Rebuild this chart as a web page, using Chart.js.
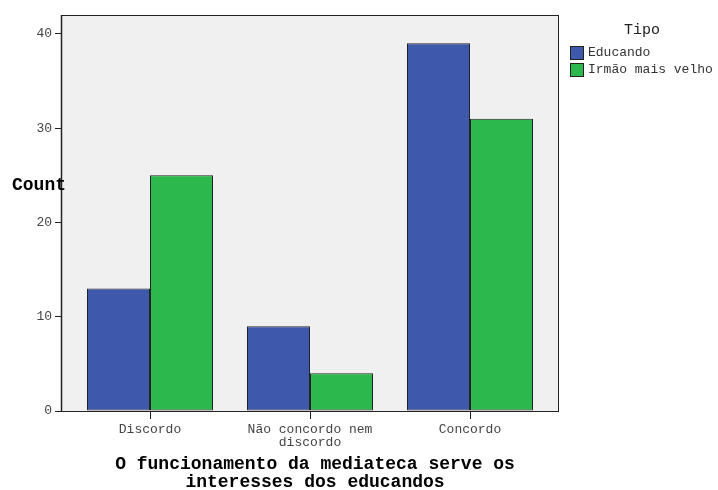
<!DOCTYPE html>
<html><head><meta charset="utf-8">
<script src="https://cdn.jsdelivr.net/npm/chart.js@4/dist/chart.umd.min.js"></script>
<style>html,body{margin:0;padding:0;background:#fff;}#wrap{width:718px;height:490px;}</style>
</head><body><div id="wrap"><canvas id="c" width="718" height="490"></canvas></div>
<script>
const categories = ['Discordo', 'Não concordo nem discordo', 'Concordo'];
const tickLabels = [['Discordo'], ['Não concordo nem', 'discordo'], ['Concordo']];
const seriesNames = ['Educando', 'Irmão mais velho'];
const educando = [13, 9, 39];
const irmao = [25, 4, 31];
const yTicks = [0, 10, 20, 30, 40];
const legendTitle = 'Tipo';
const yTitle = 'Count';
const xTitle = ['O funcionamento da mediateca serve os', 'interesses dos educandos'];

const MONO = '"Liberation Mono", "Courier New", monospace';
const colors = ['#3e58ac', '#2db84d'];

const decor = {
  id: 'decor',
  beforeDraw(chart) {
    const {ctx, chartArea: a} = chart;
    ctx.save();
    ctx.fillStyle = '#f0f0f0';
    ctx.fillRect(a.left, a.top, a.right - a.left, a.bottom - a.top);
    ctx.restore();
  },
  afterDraw(chart) {
    const {ctx, chartArea: a} = chart;
    ctx.save();
    ctx.strokeStyle = '#222';
    ctx.lineWidth = 1;
    ctx.strokeRect(a.left + 0.5, a.top + 0.5, a.right - a.left, a.bottom - a.top);
    ctx.lineWidth = 1.5;
    ctx.beginPath(); ctx.moveTo(a.left + 0.5, a.top); ctx.lineTo(a.left + 0.5, a.bottom + 1); ctx.stroke();
    // y title
    ctx.fillStyle = '#000';
    ctx.font = 'bold 18px ' + MONO;
    ctx.textAlign = 'left';
    ctx.textBaseline = 'middle';
    ctx.fillText(yTitle, 12, 185);
    // x title
    ctx.textAlign = 'center';
    xTitle.forEach((t, i) => ctx.fillText(t, 315, 464 + i * 18));
    // legend
    ctx.font = '15px ' + MONO;
    ctx.fillStyle = '#222';
    ctx.fillText(legendTitle, 642, 30);
    ctx.font = '13px ' + MONO;
    ctx.textAlign = 'left';
    chart.data.datasets.forEach((ds, i) => {
      const y = 46 + i * 17;
      ctx.fillStyle = ds.backgroundColor;
      ctx.fillRect(570, y, 13, 13);
      ctx.strokeStyle = '#222';
      ctx.lineWidth = 1;
      ctx.strokeRect(570.5, y + 0.5, 13, 13);
      ctx.fillStyle = '#333';
      ctx.fillText(ds.label, 588, y + 7);
    });
    ctx.restore();
  }
};

new Chart(document.getElementById('c'), {
  type: 'bar',
  data: {
    datasets: [
      {label: seriesNames[0], data: educando.map((v, i) => ({x: i, y: v})), backgroundColor: colors[0], borderColor: '#222', borderWidth: 1, borderSkipped: false},
      {label: seriesNames[1], data: irmao.map((v, i) => ({x: i, y: v})), backgroundColor: colors[1], borderColor: '#222', borderWidth: 1, borderSkipped: false}
    ]
  },
  options: {
    responsive: false,
    animation: false,
    devicePixelRatio: 1,
    layout: {padding: {left: 0, right: 160, top: 15, bottom: 0}},
    plugins: {legend: {display: false}, tooltip: {enabled: false}, title: {display: false}},
    datasets: {bar: {categoryPercentage: 126 / 160, barPercentage: 1, grouped: true}},
    scales: {
      x: {
        type: 'linear',
        min: (61 - 150) / 160,
        max: 2 + 88 / 160,
        offset: false,
        afterBuildTicks: s => { s.ticks = [0, 1, 2].map(v => ({value: v})); },
        afterFit: s => { s.height = 79; },
        grid: {display: true, offset: false, drawOnChartArea: false, drawTicks: true, tickLength: 8, color: '#222'},
        border: {display: true, color: '#222'},
        ticks: {
          autoSkip: false, maxRotation: 0, padding: 4,
          font: {family: MONO, size: 13, lineHeight: 1.0},
          color: '#444',
          callback: v => tickLabels[v] || ''
        }
      },
      y: {
        min: 0, max: 42,
        afterBuildTicks: s => { s.ticks = yTicks.map(v => ({value: v})); },
        afterFit: s => { s.width = 61; },
        grid: {display: true, drawOnChartArea: false, drawTicks: true, tickLength: 6, color: '#222'},
        border: {display: true, color: '#222'},
        ticks: {padding: 3, font: {family: MONO, size: 13}, color: '#444'}
      }
    }
  },
  plugins: [decor]
});
</script></body></html>
